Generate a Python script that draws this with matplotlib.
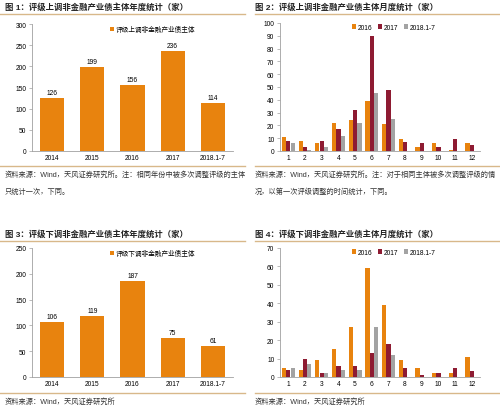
import numpy as np
import matplotlib.pyplot as plt
from matplotlib.lines import Line2D

plt.rcParams['font.family'] = ['Liberation Sans', 'Noto Sans CJK SC', 'DejaVu Sans']

years = ["2014", "2015", "2016", "2017", "2018.1-7"]
up_yearly = [126, 199, 156, 236, 114]
down_yearly = [106, 119, 187, 75, 61]

months = [str(m) for m in range(1, 13)]
series_names = ["2016", "2017", "2018.1-7"]
up_2016 = [11, 8, 6, 22, 24, 39, 21, 9, 3, 6, 1, 6]
up_2017 = [8, 3, 8, 17, 32, 90, 48, 7, 6, 3, 9, 5]
up_2018 = [6, 1, 3, 12, 22, 45, 25, 0, 0, 0, 0, 0]
down_2016 = [5, 4, 9, 15, 27, 59, 39, 9, 5, 2, 2, 11]
down_2017 = [4, 10, 2, 6, 6, 13, 18, 5, 1, 2, 5, 3]
down_2018 = [5, 7, 2, 4, 4, 27, 12, 0, 0, 0, 0, 0]

ORANGE = "#E8830E"
RED = "#8E1B32"
GRAY = "#A3A3A3"
TAN = "#D8B88A"
AXIS = "#A0A0A0"

W, H = 500, 414
fig = plt.figure(figsize=(W / 100, H / 100), dpi=100)


def rect(left, top, right, bottom):
    return [left / W, 1 - bottom / H, (right - left) / W, (bottom - top) / H]


def hline(x0, x1, y):
    fig.add_artist(Line2D([x0 / W, x1 / W], [1 - y / H, 1 - y / H],
                          color=TAN, linewidth=1.0))


def text(x, y, s, **kw):
    fig.text(x / W, 1 - y / H, s, va="center", ha="left", **kw)


def style_axes(ax):
    for side in ["top", "right"]:
        ax.spines[side].set_visible(False)
    for side in ["left", "bottom"]:
        ax.spines[side].set_color(AXIS)
        ax.spines[side].set_linewidth(0.6)
    ax.tick_params(axis="both", labelsize=4.8, length=2, width=0.5,
                   color=AXIS, pad=2)


def yearly(ax, values, ymax, label):
    x = np.arange(len(years))
    ax.bar(x, values, width=0.6, color=ORANGE, label=label)
    for xi, v in zip(x, values):
        ax.text(xi, v + ymax * 0.015, str(v), ha="center", va="bottom",
                fontsize=4.8)
    ax.set_xticks(x)
    ax.set_xticklabels(years)
    ax.set_xlim(-0.5, len(years) - 0.5)
    ax.set_ylim(0, ymax)
    ax.set_yticks(np.arange(0, ymax + 1, 50))
    style_axes(ax)
    ax.tick_params(axis="x", length=0)
    ax.legend(loc="upper center", bbox_to_anchor=(0.6, 1.03), frameon=False,
              fontsize=4.8, handlelength=0.6, handleheight=0.6,
              handletextpad=0.3)


def monthly(ax, s16, s17, s18, ymax):
    x = np.arange(len(months))
    w = 0.26
    for off, vals, c, name in zip([-w, 0, w], [s16, s17, s18],
                                  [ORANGE, RED, GRAY], series_names):
        ax.bar(x + off, vals, width=w, color=c, label=name)
    ax.set_xticks(x)
    ax.set_xticklabels(months)
    ax.set_xlim(-0.5, len(months) - 0.5)
    ax.set_ylim(0, ymax)
    ax.set_yticks(np.arange(0, ymax + 1, 10))
    style_axes(ax)
    ax.tick_params(axis="x", length=0)
    ax.legend(loc="upper center", bbox_to_anchor=(0.57, 1.04), frameon=False,
              fontsize=4.8, ncol=3, handlelength=0.6, handleheight=0.6,
              handletextpad=0.3, columnspacing=0.8)


# figure 1
ax1 = fig.add_axes(rect(32, 25, 233, 152))
yearly(ax1, up_yearly, 300, "评级上调非金融产业债主体")
# figure 2
ax2 = fig.add_axes(rect(280, 24, 480, 152))
monthly(ax2, up_2016, up_2017, up_2018, 100)
# figure 3
ax3 = fig.add_axes(rect(32, 249, 233, 378))
yearly(ax3, down_yearly, 250, "评级下调非金融产业债主体")
# figure 4
ax4 = fig.add_axes(rect(280, 249, 480, 378))
monthly(ax4, down_2016, down_2017, down_2018, 70)

title_kw = dict(fontsize=6, fontweight="bold", color="#222222")
src_kw = dict(fontsize=5.2, color="#333333")

text(5, 7, "图 1：评级上调非金融产业债主体年度统计（家）", **title_kw)
text(255, 7, "图 2：评级上调非金融产业债主体月度统计（家）", **title_kw)
text(5, 234, "图 3：评级下调非金融产业债主体年度统计（家）", **title_kw)
text(255, 234, "图 4：评级下调非金融产业债主体月度统计（家）", **title_kw)

hline(0, 245, 15)
hline(255, 500, 15)
hline(0, 245, 242)
hline(255, 500, 242)
hline(0, 245, 167)
hline(255, 500, 167)
hline(0, 245, 394)
hline(255, 500, 394)

text(5, 175, "资料来源：Wind，天风证券研究所。注：相同年份中被多次调整评级的主体", **src_kw)
text(5, 192, "只统计一次，下同。", **src_kw)
text(255, 175, "资料来源：Wind，天风证券研究所。注：对于相同主体被多次调整评级的情", **src_kw)
text(255, 192, "况，以第一次评级调整的时间统计，下同。", **src_kw)
text(5, 402, "资料来源：Wind，天风证券研究所", **src_kw)
text(255, 402, "资料来源：Wind，天风证券研究所", **src_kw)

fig.savefig("out.png", dpi=100)
